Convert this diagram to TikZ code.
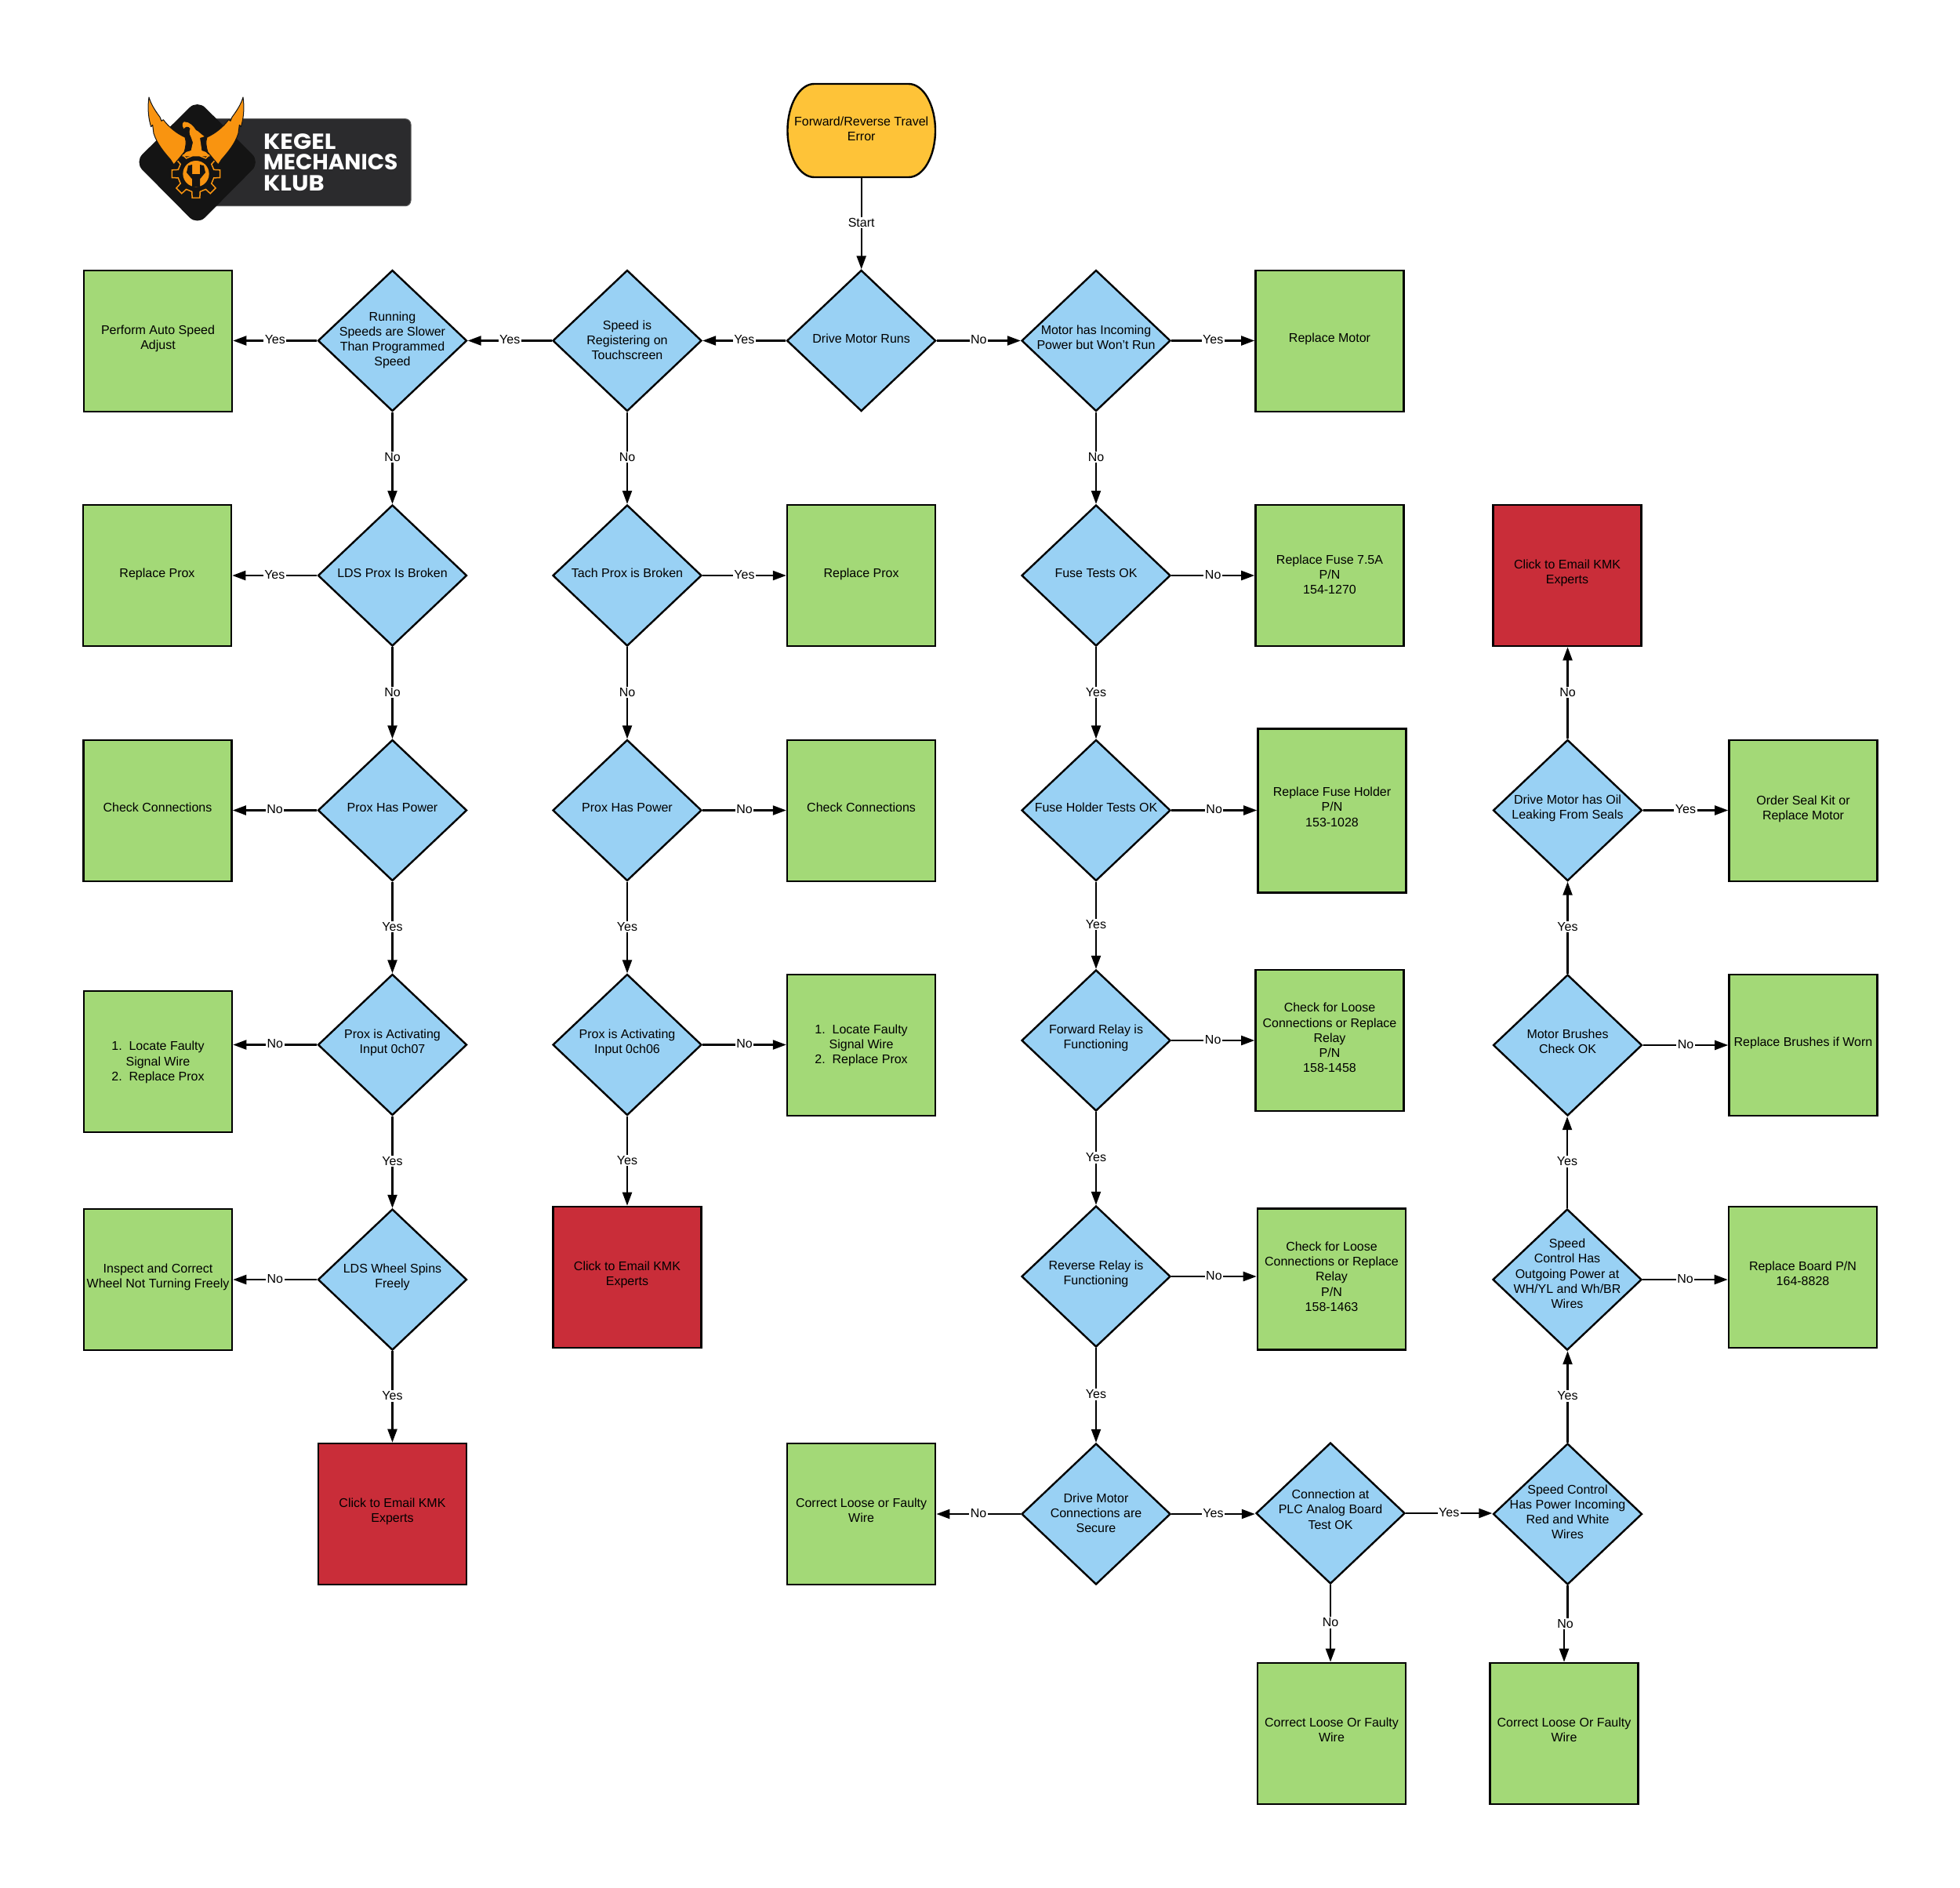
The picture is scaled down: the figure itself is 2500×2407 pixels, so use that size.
\documentclass[tikz,border=0pt]{standalone}
\usepackage{fontspec}
\setmainfont{Liberation Sans}
\newfontfamily\logofont{Poppins}[UprightFont=* Bold]
\usetikzlibrary{shapes.geometric,arrows.meta,calc}
\definecolor{startc}{RGB}{254,195,56}
\definecolor{decc}{RGB}{153,209,244}
\definecolor{actc}{RGB}{163,217,119}
\definecolor{redc}{RGB}{201,45,57}
\definecolor{logod}{RGB}{20,20,20}
\definecolor{logob}{RGB}{43,43,45}
\definecolor{logoo}{RGB}{249,148,16}
\newcommand\ntext[2][4pt]{\makebox[0pt]{\raisebox{\dimexpr#1-7.6pt\relax}{\smash{\begin{tabular}[c]{@{}c@{}}#2\end{tabular}}}}}
\tikzset{
  txt/.style={font=\fontsize{16}{19.2}\selectfont,text=black},
  dec/.style={txt,shape=diamond,draw=black,fill=decc,line width=2.4pt,line join=miter,inner sep=0pt,minimum width=190pt,minimum height=180pt},
  act/.style={txt,shape=rectangle,draw=black,fill=actc,line width=2.6pt,inner sep=0pt,minimum width=189pt,minimum height=180pt},
  alert/.style={act,fill=redc},
  startnode/.style={txt,shape=rectangle,inner sep=0pt,minimum width=188.5pt,minimum height=119pt},
  startshape/.style={draw=black,fill=startc,line width=2.4pt},
  edge/.style={draw=black,line width=2.2pt,-{Triangle[length=17pt,width=12pt]}},
  lab/.style={txt,fill=white,inner sep=1.5pt,yshift=1pt},
  logotext/.style={font=\logofont\fontsize{28}{28}\selectfont,text=white,anchor=west,inner sep=0pt},
  wingshape/.style={fill=logoo,draw=logod,line width=1pt,line join=round},
}
\newcommand\wingpath{(330,12) .. controls (337,60) and (330,100) .. (322,125) -- (316,118) -- (312,150)
      .. controls (300,190) and (270,225) .. (248,250) -- (235,270) -- (218,250) -- (195,222)
      .. controls (188,200) and (186,182) .. (192,165)
      .. controls (225,150) and (255,125) .. (275,98) -- (282,103) -- (288,88)
      .. controls (305,65) and (322,40) .. (330,12) -- cycle}
\newcommand\EL[3]{\draw[edge] (#1.west) -- node[lab]{#3} (#1.west -| #2.east);}
\newcommand\ER[3]{\draw[edge] (#1.east) -- node[lab]{#3} (#1.east -| #2.west);}
\newcommand\ED[3]{\draw[edge] (#1.south) -- node[lab]{#3} (#1.south |- #2.north);}
\newcommand\EU[3]{\draw[edge] (#1.north) -- node[lab]{#3} (#1.north |- #2.south);}
\begin{document}
\begin{tikzpicture}[x=1pt,y=-1pt]
\useasboundingbox (0,0) rectangle (2500,2407);
\fill[white] (0,0) rectangle (2500,2407);

% logo
\begin{scope}[shift={(150,90)},x=0.33333pt,y=-0.33333pt]
  \fill[logob,draw=black!65,line width=1pt,rounded corners=7pt] (300,185) rectangle (1122,518);
  \fill[logod,rounded corners=14pt] (65,350) -- (305,112) -- (545,350) -- (305,592) -- cycle;
  \begin{scope}[shift={(150,90)}]
    % gear
    \path[draw=logoo,fill=logod,line width=1.5pt,line join=miter]
      ($(150,305)+(9:93)$) \foreach \a in {0,-45,...,-315} {
        -- ($(150,305)+(\a-9:93)$) -- ($(150,305)+(\a-13:70)$) -- ($(150,305)+(\a-32:70)$) -- ($(150,305)+(\a-36:93)$)
      } -- cycle;
    % right wing
    \path[wingshape] \wingpath;
    % left wing
    \begin{scope}[shift={(300,0)},x=-0.33333pt]
    \path[wingshape] \wingpath;
    \end{scope}
    % body and head
    \fill[logoo] (96,238) -- (112,222) -- (131,216) -- (138,185) -- (131,165)
      .. controls (122,150) and (125,138) .. (128,132)
      .. controls (120,120) and (110,125) .. (103,132)
      .. controls (95,120) and (98,108) .. (105,106)
      .. controls (125,106) and (140,122) .. (150,138)
      .. controls (160,142) and (170,155) .. (182,162)
      -- (165,168) .. controls (168,185) and (170,200) .. (172,216)
      -- (188,222) -- (204,238) -- cycle;
    \fill[logoo] (150,305) circle[radius=50];
    \fill[logod] (120,274) -- (135,270) -- (135,306) -- (165,306) -- (165,270) -- (180,274) -- (186,300)
      -- (165,325) -- (165,354) -- (135,354) -- (135,325) -- (114,300) -- cycle;
  \end{scope}
\end{scope}
\node[logotext,xscale=1.09,transform shape] (kegel) at (336,180.5) {KEGEL};
\node[logotext] (mech) at (336,207) {MECHANICS};
\node[logotext,xscale=1.09,transform shape] (klub) at (336,233.5) {KLUB};

% start
\path[startshape] (1004.5,166.5) .. controls (1004.5,133.5) and (1019.8,107) .. (1038.5,107)
  -- (1159,107) .. controls (1177.7,107) and (1193,133.5) .. (1193,166.5)
  .. controls (1193,199.5) and (1177.7,226) .. (1159,226)
  -- (1038.5,226) .. controls (1019.8,226) and (1004.5,199.5) .. (1004.5,166.5) -- cycle;
\node[startnode] (start) at (1098.7,166.5) {\ntext[-1pt]{Forward/Reverse Travel\\Error}};

% decisions
\node[dec] (drive) at (1098.6,434.5) {\ntext[1pt]{Drive Motor Runs}};
\node[dec] (motor) at (1398,434.5) {\ntext{Motor has Incoming\\Power but Won't Run}};
\node[dec] (speed) at (800,434.5) {\ntext[-3.5pt]{Speed is\\Registering on\\Touchscreen}};
\node[dec] (running) at (500.5,434.5) {\ntext[0pt]{Running\\Speeds are Slower\\Than Programmed\\Speed}};
\node[dec] (ldsb) at (500.5,734) {\ntext[2pt]{LDS Prox Is Broken}};
\node[dec] (tach) at (800,734) {\ntext[2pt]{Tach Prox is Broken}};
\node[dec] (fuse) at (1398,734) {\ntext[2pt]{Fuse Tests OK}};
\node[dec] (powl) at (500.5,1033.5) {\ntext[3pt]{Prox Has Power}};
\node[dec] (powr) at (800,1033.5) {\ntext[3pt]{Prox Has Power}};
\node[dec] (holder) at (1398,1033.5) {\ntext[3pt]{Fuse Holder Tests OK}};
\node[dec] (oil) at (1999.5,1033.5) {\ntext{Drive Motor has Oil\\Leaking From Seals}};
\node[dec] (act7) at (500.5,1332.5) {\ntext{Prox is Activating\\Input 0ch07}};
\node[dec] (act6) at (800,1332.5) {\ntext{Prox is Activating\\Input 0ch06}};
\node[dec] (forward) at (1398,1327) {\ntext{Forward Relay is\\Functioning}};
\node[dec] (brush) at (1999.5,1333) {\ntext{Motor Brushes\\Check OK}};
\node[dec] (wheel) at (500.5,1632) {\ntext{LDS Wheel Spins\\Freely}};
\node[dec] (reverse) at (1398,1628) {\ntext{Reverse Relay is\\Functioning}};
\node[dec] (outp) at (1999,1632) {\ntext[10.5pt]{Speed\\Control Has\\Outgoing Power at\\WH/YL and Wh/BR\\Wires}};
\node[dec] (conn) at (1398,1931) {\ntext[-2pt]{Drive Motor\\Connections are\\Secure}};
\node[dec] (plc) at (1697,1930) {\ntext[5pt]{Connection at\\PLC Analog Board\\Test OK}};
\node[dec] (inp) at (1999.5,1931) {\ntext[1pt]{Speed Control\\Has Power Incoming\\Red and White\\Wires}};

% actions
\node[act] (autoadj) at (201.5,435) {\ntext{Perform Auto Speed\\Adjust}};
\node[act] (repmot) at (1696,435) {\ntext[3pt]{Replace Motor}};
\node[act] (rpl) at (200.5,734) {\ntext[2pt]{Replace Prox}};
\node[act] (rpr) at (1098.6,734) {\ntext[2pt]{Replace Prox}};
\node[act] (repfuse) at (1696,734) {\ntext[-2pt]{Replace Fuse 7.5A\\P/N\\154-1270}};
\node[alert] (email4) at (1999,734) {\ntext{Click to Email KMK\\Experts}};
\node[act] (chkl) at (201,1034) {\ntext[4pt]{Check Connections}};
\node[act] (chkr) at (1098.6,1034) {\ntext[4pt]{Check Connections}};
\node[act,minimum height=209pt] (rephold) at (1699,1034) {\ntext[5pt]{Replace Fuse Holder\\P/N\\153-1028}};
\node[act] (seal) at (2300,1034) {\ntext[3pt]{Order Seal Kit or\\Replace Motor}};
\node[act] (locl) at (201.5,1354) {\ntext[-3.5pt]{1.\ \ Locate Faulty\\Signal Wire\\2.\ \ Replace Prox}};
\node[act] (locr) at (1098.6,1333) {\ntext[-2pt]{1.\ \ Locate Faulty\\Signal Wire\\2.\ \ Replace Prox}};
\node[act] (relayf) at (1696,1327) {\ntext[2pt]{Check for Loose\\Connections or Replace\\Relay\\P/N\\158-1458}};
\node[act] (brushes) at (2300,1333) {\ntext[3pt]{Replace Brushes if Worn}};
\node[act] (inspect) at (201.5,1632) {\ntext{Inspect and Correct\\Wheel Not Turning Freely}};
\node[alert] (email2) at (800,1629) {\ntext{Click to Email KMK\\Experts}};
\node[act] (relayr) at (1698.5,1631.5) {\ntext[2pt]{Check for Loose\\Connections or Replace\\Relay\\P/N\\158-1463}};
\node[act] (board) at (2299.5,1629) {\ntext{Replace Board P/N\\164-8828}};
\node[alert] (email1) at (500.5,1931) {\ntext{Click to Email KMK\\Experts}};
\node[act] (wirec) at (1098.6,1931) {\ntext{Correct Loose or Faulty\\Wire}};
\node[act] (wire1) at (1698.5,2211) {\ntext{Correct Loose Or Faulty\\Wire}};
\node[act] (wire2) at (1995,2211) {\ntext{Correct Loose Or Faulty\\Wire}};

% connectors
\ED{start}{drive}{Start}
\EL{drive}{speed}{Yes}
\ER{drive}{motor}{No}
\ER{motor}{repmot}{Yes}
\ED{motor}{fuse}{No}
\EL{speed}{running}{Yes}
\EL{running}{autoadj}{Yes}
\ED{running}{ldsb}{No}
\ED{speed}{tach}{No}
\EL{ldsb}{rpl}{Yes}
\ED{ldsb}{powl}{No}
\ER{tach}{rpr}{Yes}
\ED{tach}{powr}{No}
\EL{powl}{chkl}{No}
\ED{powl}{act7}{Yes}
\ER{powr}{chkr}{No}
\ED{powr}{act6}{Yes}
\EL{act7}{locl}{No}
\ED{act7}{wheel}{Yes}
\ER{act6}{locr}{No}
\ED{act6}{email2}{Yes}
\EL{wheel}{inspect}{No}
\ED{wheel}{email1}{Yes}
\ER{fuse}{repfuse}{No}
\ED{fuse}{holder}{Yes}
\ER{holder}{rephold}{No}
\ED{holder}{forward}{Yes}
\ER{forward}{relayf}{No}
\ED{forward}{reverse}{Yes}
\ER{reverse}{relayr}{No}
\ED{reverse}{conn}{Yes}
\EL{conn}{wirec}{No}
\ER{conn}{plc}{Yes}
\ED{plc}{wire1}{No}
\ER{plc}{inp}{Yes}
\draw[edge] (inp.south) -- ++(0,50) -| node[lab,pos=0,xshift=-3pt]{No} (wire2.north);
\EU{inp}{outp}{Yes}
\ER{outp}{board}{No}
\EU{outp}{brush}{Yes}
\ER{brush}{brushes}{No}
\EU{brush}{oil}{Yes}
\ER{oil}{seal}{Yes}
\EU{oil}{email4}{No}
\end{tikzpicture}
\end{document}
